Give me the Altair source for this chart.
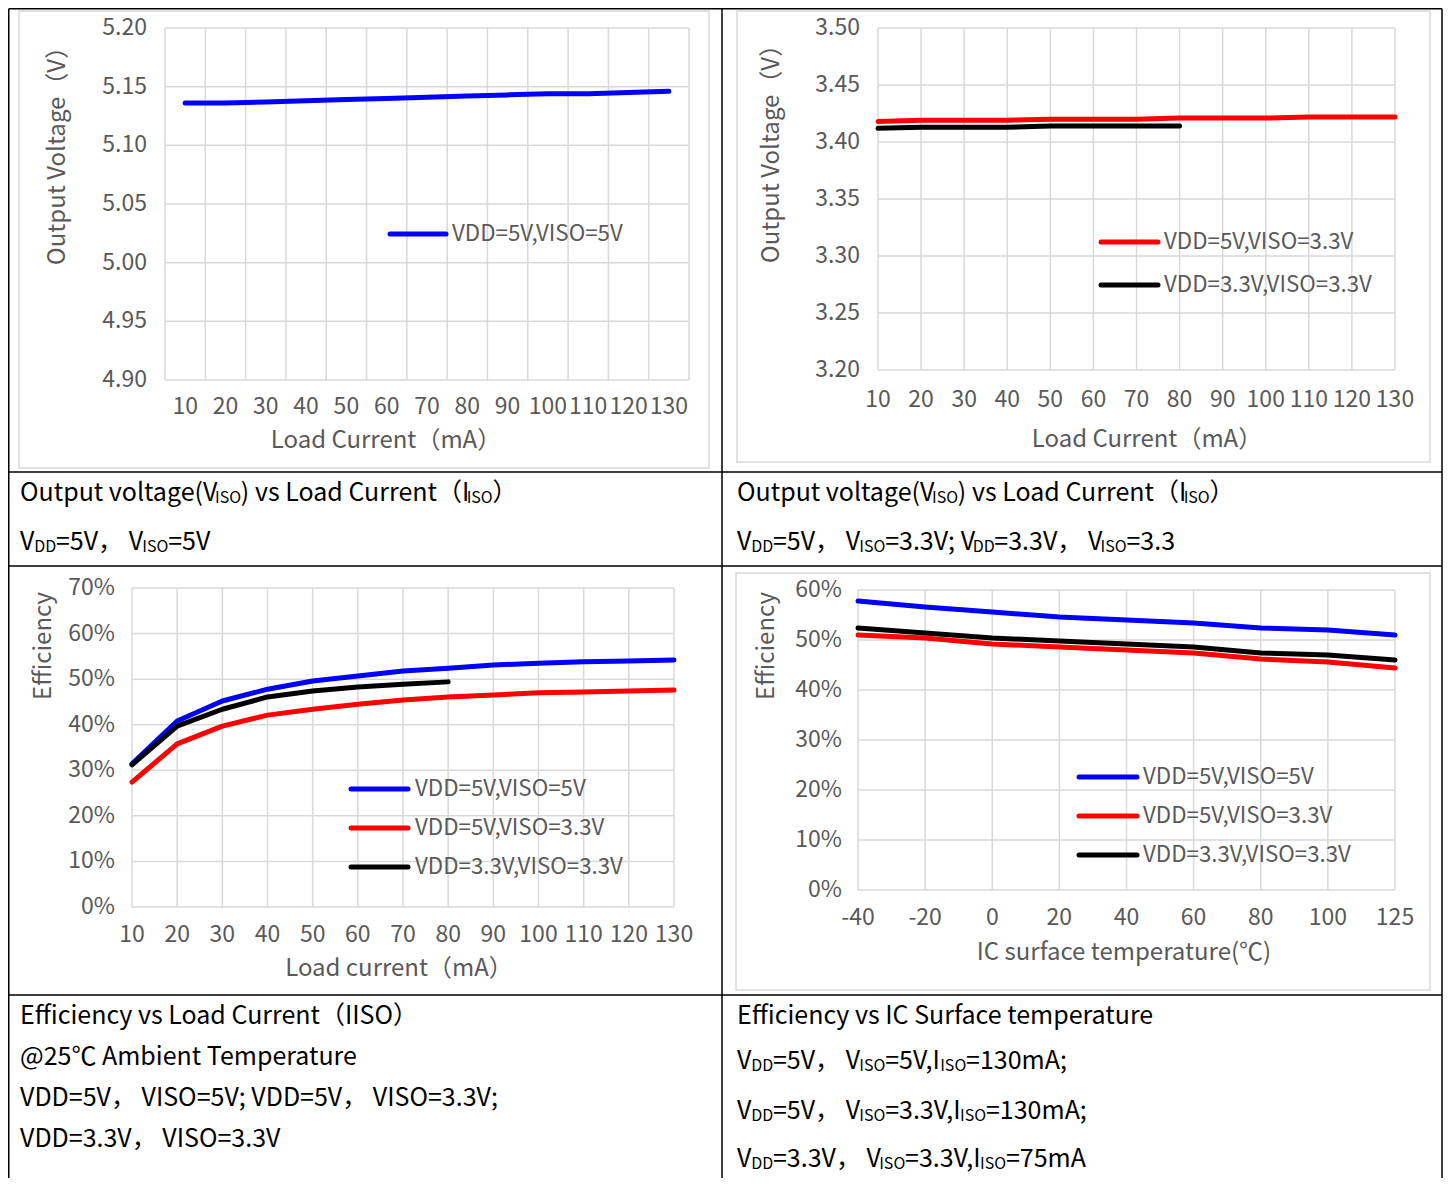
import altair as alt
import pandas as pd

FONT = "Noto Sans CJK SC"
GRAY = "#595959"
GRIDC = "#D9D9D9"
W, H, M = 1436, 1170, 8

# ---------------- data ----------------
load_ma = [10, 20, 30, 40, 50, 60, 70, 80, 90, 100, 110, 120, 130]
load_ma_33 = [10, 20, 30, 40, 50, 60, 70, 80]
vout_5_5 = [5.136, 5.136, 5.137, 5.138, 5.139, 5.140, 5.141, 5.142, 5.143, 5.144, 5.144, 5.145, 5.146]
vout_5_33 = [3.418, 3.419, 3.419, 3.419, 3.420, 3.420, 3.420, 3.421, 3.421, 3.421, 3.422, 3.422, 3.422]
vout_33_33 = [3.412, 3.413, 3.413, 3.413, 3.414, 3.414, 3.414, 3.414]
eff_5_5 = [31.4, 40.8, 45.2, 47.8, 49.6, 50.7, 51.8, 52.4, 53.1, 53.5, 53.8, 54.0, 54.2]
eff_5_33 = [27.4, 35.8, 39.7, 42.1, 43.4, 44.5, 45.4, 46.1, 46.5, 47.0, 47.2, 47.4, 47.6]
eff_33_33 = [31.2, 39.7, 43.4, 46.1, 47.4, 48.3, 48.9, 49.4]
temp_labels = ["-40", "-20", "0", "20", "40", "60", "80", "100", "125"]
teff_5_5 = [57.8, 56.6, 55.6, 54.6, 54.0, 53.4, 52.4, 52.0, 51.0]
teff_5_33 = [51.0, 50.4, 49.2, 48.6, 48.0, 47.4, 46.2, 45.6, 44.4]
teff_33_33 = [52.4, 51.4, 50.4, 49.8, 49.2, 48.6, 47.4, 47.0, 46.0]

S55 = "VDD=5V,VISO=5V"
S533 = "VDD=5V,VISO=3.3V"
S3333 = "VDD=3.3V,VISO=3.3V"
COLORS = {S55: "#0000FF", S533: "#FF0000", S3333: "#000000"}

v5_ticks = [4.90, 4.95, 5.00, 5.05, 5.10, 5.15, 5.20]
v33_ticks = [3.20, 3.25, 3.30, 3.35, 3.40, 3.45, 3.50]
eff_ticks = [0, 10, 20, 30, 40, 50, 60, 70]
teff_ticks = [0, 10, 20, 30, 40, 50, 60]
load_edges = [5, 15, 25, 35, 45, 55, 65, 75, 85, 95, 105, 115, 125, 135]

one = pd.DataFrame({"k": [0]})
TICK_FS = 23


def vx(X):
    return X - M


def vy(Y):
    return Y - M


def long_df(parts, xname):
    rows = []
    for xs, ys, name in parts:
        for a, b in zip(xs, ys):
            rows.append({xname: a, "val": b, "s": name})
    return pd.DataFrame(rows)


def color_enc(names):
    return alt.Color("s:N", scale=alt.Scale(domain=names, range=[COLORS[n] for n in names]), legend=None)


def grid_layers(xscale, yscale, xgrid, ygrid, xtype, xlo, xhi, ylo, yhi):
    hdf = pd.DataFrame({"g": ygrid})
    vdf = pd.DataFrame({"g": xgrid})
    h = alt.Chart(hdf).mark_rule(color=GRIDC, strokeWidth=1.5).encode(
        y=alt.Y("g:Q", scale=yscale, axis=None),
        x=alt.XDatum(xlo, scale=xscale, axis=None), x2=alt.X2Datum(xhi))
    v = alt.Chart(vdf).mark_rule(color=GRIDC, strokeWidth=1.5).encode(
        x=alt.X("g:" + xtype, scale=xscale, axis=None),
        y=alt.YDatum(ylo, scale=yscale, axis=None), y2=alt.Y2Datum(yhi))
    return [h, v]


def xlabels(xscale, values, xtype, ypage):
    df = pd.DataFrame({"g": values})
    return alt.Chart(df).mark_text(align="center", baseline="middle", font=FONT,
                                   fontSize=TICK_FS, color=GRAY).encode(
        x=alt.X("g:" + xtype, scale=xscale, axis=None), y=alt.value(vy(ypage)),
        text=alt.Text("g:N"))


def ylabels(yscale, values, xright, fmt=None, pct=False):
    df = pd.DataFrame({"g": values})
    base = alt.Chart(df)
    if pct:
        base = base.transform_calculate(lab="format(datum.g, 'd') + '%'")
        txt = alt.Text("lab:N")
    else:
        txt = alt.Text("g:Q", format=fmt)
    return base.mark_text(align="right", baseline="middle", font=FONT, fontSize=TICK_FS,
                          color=GRAY).encode(
        y=alt.Y("g:Q", scale=yscale, axis=None), x=alt.value(vx(xright)), text=txt)


def legend_layer(names, ys_page, x1, x2, xt):
    ldf = pd.DataFrame({"s": names})
    yenc = alt.Y("s:N", scale=alt.Scale(type="point", domain=names, padding=0,
                                        range=[vy(ys_page[0]), vy(ys_page[-1])]), axis=None)
    r = alt.Chart(ldf).mark_rule(strokeWidth=5, strokeCap="round").encode(
        y=yenc, x=alt.value(vx(x1)), x2=alt.value(vx(x2)), color=color_enc(names))
    t = alt.Chart(ldf).mark_text(align="left", baseline="middle", font=FONT, fontSize=22.3,
                                 color=GRAY).encode(y=yenc, x=alt.value(vx(xt)), text="s:N")
    return alt.layer(r, t)


def line_mark():
    return dict(strokeWidth=5, strokeCap="round", strokeJoin="round")


def label_text(txt, xc, yc, angle=0, size=24):
    kw = dict(align="center", baseline="middle", font=FONT, fontSize=size, color=GRAY)
    if angle:
        kw["angle"] = angle
    return alt.Chart(one).mark_text(**kw).encode(
        x=alt.value(vx(xc)), y=alt.value(vy(yc)), text=alt.value(txt))


# ---------------- chart 1 ----------------
xs1 = alt.Scale(domain=[5, 135], range=[vx(165), vx(689)], nice=False, zero=False)
ys1 = alt.Scale(domain=[4.90, 5.20], range=[vy(380), vy(28)], nice=False, zero=False)
d1 = long_df([(load_ma, vout_5_5, S55)], "cur")
c1_line = alt.Chart(d1).mark_line(**line_mark()).encode(
    x=alt.X("cur:Q", scale=xs1, axis=None),
    y=alt.Y("val:Q", scale=ys1, axis=None),
    color=color_enc([S55]))
c1 = alt.layer(*grid_layers(xs1, ys1, load_edges, v5_ticks, "Q", 5, 135, 4.90, 5.20),
               xlabels(xs1, load_ma, "Q", 407), ylabels(ys1, v5_ticks, 147, fmt=".2f"), c1_line)
leg1 = legend_layer([S55], [234], 390, 446, 452)

# ---------------- chart 2 ----------------
xs2 = alt.Scale(domain=[10, 130], range=[vx(878), vx(1395)], nice=False, zero=False)
ys2 = alt.Scale(domain=[3.20, 3.50], range=[vy(370), vy(28)], nice=False, zero=False)
d2 = long_df([(load_ma, vout_5_33, S533), (load_ma_33, vout_33_33, S3333)], "cur")
c2_line = alt.Chart(d2).mark_line(**line_mark()).encode(
    x=alt.X("cur:Q", scale=xs2, axis=None),
    y=alt.Y("val:Q", scale=ys2, axis=None),
    color=color_enc([S533, S3333]))
c2 = alt.layer(*grid_layers(xs2, ys2, load_ma, v33_ticks, "Q", 10, 130, 3.20, 3.50),
               xlabels(xs2, load_ma, "Q", 400), ylabels(ys2, v33_ticks, 860, fmt=".2f"), c2_line)
leg2 = legend_layer([S533, S3333], [242, 285], 1101, 1158, 1164)

# ---------------- chart 3 ----------------
xs3 = alt.Scale(domain=[10, 130], range=[vx(132), vx(674)], nice=False, zero=False)
ys3 = alt.Scale(domain=[0, 70], range=[vy(907), vy(588)], nice=False, zero=False)
d3 = long_df([(load_ma, eff_5_5, S55), (load_ma, eff_5_33, S533), (load_ma_33, eff_33_33, S3333)], "cur")
c3_line = alt.Chart(d3).mark_line(**line_mark()).encode(
    x=alt.X("cur:Q", scale=xs3, axis=None),
    y=alt.Y("val:Q", scale=ys3, axis=None),
    color=color_enc([S55, S533, S3333]))
c3 = alt.layer(*grid_layers(xs3, ys3, load_ma, eff_ticks, "Q", 10, 130, 0, 70),
               xlabels(xs3, load_ma, "Q", 935), ylabels(ys3, eff_ticks, 115, pct=True), c3_line)
leg3 = legend_layer([S55, S533, S3333], [789, 828, 867], 351, 408, 415)

# ---------------- chart 4 ----------------
xs4 = alt.Scale(type="point", domain=temp_labels, range=[vx(858), vx(1395)], padding=0)
ys4 = alt.Scale(domain=[0, 60], range=[vy(890), vy(590)], nice=False, zero=False)
d4 = long_df([(temp_labels, teff_5_5, S55), (temp_labels, teff_5_33, S533),
              (temp_labels, teff_33_33, S3333)], "t")
c4_line = alt.Chart(d4).mark_line(**line_mark()).encode(
    x=alt.X("t:O", scale=xs4, sort=temp_labels, axis=None),
    y=alt.Y("val:Q", scale=ys4, axis=None),
    color=color_enc([S55, S533, S3333]))
c4 = alt.layer(*grid_layers(xs4, ys4, temp_labels, teff_ticks, "O", "-40", "125", 0, 60),
               xlabels(xs4, temp_labels, "O", 918), ylabels(ys4, teff_ticks, 842, pct=True), c4_line)
leg4 = legend_layer([S55, S533, S3333], [777, 816, 855], 1079, 1137, 1143)

# ---------------- axis titles ----------------
titles = [
    label_text("Output Voltage（V）", 58, 150, angle=270),
    label_text("Load Current（mA）", 386, 441),
    label_text("Output Voltage（V）", 772, 148, angle=270),
    label_text("Load Current（mA）", 1147, 440),
    label_text("Efficiency", 44, 646, angle=270),
    label_text("Load current（mA）", 399, 969),
    label_text("Efficiency", 767, 646, angle=270),
    label_text("IC surface temperature(℃)", 1124, 953),
]

# ---------------- frames & table ----------------
def frame(x1, y1, x2, y2, color=GRIDC, sw=1.5):
    return alt.Chart(one).mark_rect(filled=False, stroke=color, strokeWidth=sw).encode(
        x=alt.value(vx(x1)), x2=alt.value(vx(x2)), y=alt.value(vy(y1)), y2=alt.value(vy(y2)))


def hline(x1, x2, y, color="#000000", sw=1.5):
    return alt.Chart(one).mark_rule(color=color, strokeWidth=sw).encode(
        x=alt.value(vx(x1)), x2=alt.value(vx(x2)), y=alt.value(vy(y)))


def vline(x, y1, y2, color="#000000", sw=1.5):
    return alt.Chart(one).mark_rule(color=color, strokeWidth=sw).encode(
        x=alt.value(vx(x)), y=alt.value(vy(y1)), y2=alt.value(vy(y2)))


frames = [frame(19, 11, 709, 468), frame(737, 11, 1430, 462), frame(736, 573, 1430, 990)]
table = [
    hline(8.75, 1442, 8.75), hline(8.75, 1442, 472), hline(8.75, 1442, 566), hline(8.75, 1442, 995),
    vline(8.75, 8.75, 1178), vline(722, 8.75, 1178), vline(1442, 8.75, 1178),
]

# ---------------- captions ----------------
WID = {' ': 202, '!': 241, '(': 303, ')': 303, ',': 230, '.': 230, ';': 230, ':': 230,
       '=': 497, '@': 856, '%': 813, '-': 311,
       'A': 544, 'B': 593, 'C': 571, 'D': 618, 'E': 532, 'F': 496, 'G': 618, 'H': 653, 'I': 264,
       'J': 479, 'K': 584, 'L': 485, 'M': 723, 'N': 649, 'O': 673, 'P': 584, 'Q': 673, 'R': 587,
       'S': 541, 'T': 542, 'U': 648, 'V': 522, 'W': 783, 'X': 515, 'Y': 483, 'Z': 533,
       'a': 500, 'b': 553, 'c': 456, 'd': 555, 'e': 496, 'f': 292, 'g': 504, 'h': 542, 'i': 246,
       'j': 246, 'k': 495, 'l': 256, 'm': 827, 'n': 545, 'o': 549, 'p': 553, 'q': 555, 'r': 347,
       's': 419, 't': 338, 'u': 541, 'v': 468, 'w': 710, 'x': 446, 'y': 468, 'z': 426}
for d in "0123456789":
    WID[d] = 497
FULL = {'（': 1000, '）': 1000, '，': 1000, '℃': 1000}
LATIN_SCALE = 1.095

CAP = 25
SUB = 16


def twidth(s, size):
    tot = 0.0
    for c in s:
        if c in FULL:
            tot += FULL[c]
        else:
            tot += WID.get(c, 500) * LATIN_SCALE
    return tot / 1000.0 * size


def caption(x0, yc, segs):
    out = []
    x = x0
    for txt, sub in segs:
        size = SUB if sub else CAP
        base = yc + 8.5 + (2.5 if sub else 0)
        out.append(alt.Chart(one).mark_text(align="left", baseline="alphabetic", font=FONT,
                                            fontSize=size, color="#000000").encode(
            x=alt.value(vx(x)), y=alt.value(vy(base)), text=alt.value(txt)))
        x += twidth(txt, size)
    return out


SP = "， "
caps = []
row1 = [("Output voltage(V", 0), ("ISO", 1), (") vs Load Current（I", 0), ("ISO", 1), ("）", 0)]
caps += caption(20, 492, row1)
caps += caption(737, 492, row1)
caps += caption(20, 541, [("V", 0), ("DD", 1), ("=5V" + SP + "V", 0), ("ISO", 1), ("=5V", 0)])
caps += caption(737, 541, [("V", 0), ("DD", 1), ("=5V" + SP + "V", 0), ("ISO", 1), ("=3.3V; V", 0),
                           ("DD", 1), ("=3.3V" + SP + "V", 0), ("ISO", 1), ("=3.3", 0)])
caps += caption(20, 1015, [("Efficiency vs Load Current（IISO）", 0)])
caps += caption(20, 1056, [("@25℃ Ambient Temperature", 0)])
caps += caption(20, 1097, [("VDD=5V" + SP + "VISO=5V; VDD=5V" + SP + "VISO=3.3V;", 0)])
caps += caption(20, 1138, [("VDD=3.3V" + SP + "VISO=3.3V", 0)])
caps += caption(737, 1015, [("Efficiency vs IC Surface temperature", 0)])
caps += caption(737, 1060, [("V", 0), ("DD", 1), ("=5V" + SP + "V", 0), ("ISO", 1), ("=5V,I", 0),
                            ("ISO", 1), ("=130mA;", 0)])
caps += caption(737, 1110, [("V", 0), ("DD", 1), ("=5V" + SP + "V", 0), ("ISO", 1), ("=3.3V,I", 0),
                            ("ISO", 1), ("=130mA;", 0)])
caps += caption(737, 1158, [("V", 0), ("DD", 1), ("=3.3V" + SP + "V", 0), ("ISO", 1), ("=3.3V,I", 0),
                            ("ISO", 1), ("=75mA", 0)])

chart = alt.layer(
    *frames, c1, leg1, c2, leg2, c3, leg3, c4, leg4, *titles, *table, *caps
).resolve_scale(
    x="independent", y="independent", color="independent"
).properties(
    width=W, height=H, padding=0, autosize=alt.AutoSizeParams(type="none"),
    background="#FFFFFF"
).configure_view(stroke="transparent")

chart.save("out.html", embed_options={"renderer": "svg", "actions": False})
